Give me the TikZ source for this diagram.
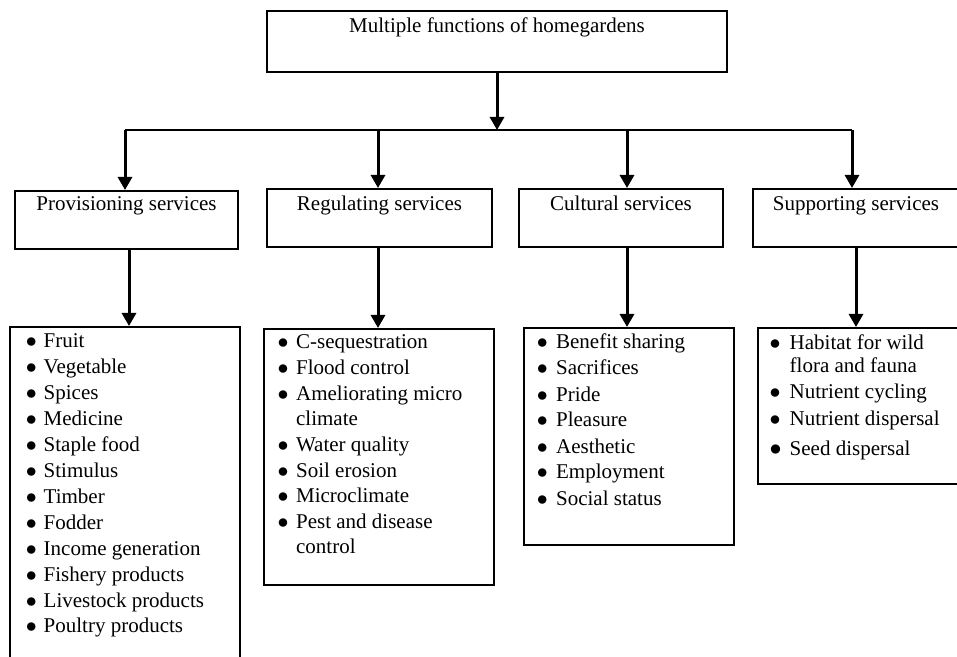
\documentclass[tikz,border=0pt]{standalone}
\usepackage{fontspec}
\setmainfont{Liberation Serif}
\usetikzlibrary{arrows.meta}
\newcommand{\blt}{$\bullet$}
\begin{document}
\begin{tikzpicture}[x=0.5pt,y=-0.5pt,
  box/.style={draw,line width=1pt,inner sep=0pt,font=\fontsize{10.5}{12.9}\selectfont},
  hbox/.style={box,text height=11pt,text depth=18pt},
  lbox/.style={draw,line width=1pt,inner sep=0pt,anchor=north west},
  arr/.style={line width=1.5pt,-{Triangle[length=6.5pt,width=7pt]}},
  conn/.style={line width=1pt},
  items/.style={inner sep=0pt,anchor=base west}]
\clip (0,0) rectangle (957,657);
% top box
\node[box,minimum width=230pt,text height=11pt,text depth=19.5pt] (top) at (497,41.5) {Multiple functions of homegardens};
% service boxes
\node[box,minimum width=111.5pt,text height=10pt,text depth=19pt] (prov) at (126.5,220) {Provisioning services};
\node[hbox,minimum width=112.5pt] (reg) at (379.5,218) {Regulating services};
\node[hbox,minimum width=102pt] (cult) at (621,218) {Cultural services};
\node[hbox,minimum width=103pt] (supp) at (856,218) {Supporting services};
% list boxes
\node[lbox,minimum width=115pt,minimum height=168pt] (provlist) at (9,326) {};
\node[lbox,minimum width=115pt,minimum height=128pt] (reglist) at (263,328) {};
\node[lbox,minimum width=105pt,minimum height=108.5pt] (cultlist) at (523,327) {};
\node[lbox,minimum width=102pt,minimum height=78pt] (supplist) at (757,327) {};
% list items
\node[items,font=\fontsize{10.5}{12.95}\selectfont] (provitems) at (25.5,348) {%
\begin{tabular}[t]{@{}p{8.9pt}@{}l@{}}
\blt & Fruit\\
\blt & Vegetable\\
\blt & Spices\\
\blt & Medicine\\
\blt & Staple food\\
\blt & Stimulus\\
\blt & Timber\\
\blt & Fodder\\
\blt & Income generation\\
\blt & Fishery products\\
\blt & Livestock products\\
\blt & Poultry products
\end{tabular}};
\node[items,font=\fontsize{10.5}{12.8}\selectfont] (regitems) at (277.2,349) {%
\begin{tabular}[t]{@{}p{9.25pt}@{}l@{}}
\blt & C-sequestration\\
\blt & Flood control\\
\blt & Ameliorating micro\\
 & climate\\
\blt & Water quality\\
\blt & Soil erosion\\
\blt & Microclimate\\
\blt & Pest and disease\\
 & control
\end{tabular}};
\node[items,font=\fontsize{10.5}{13}\selectfont] (cultitems) at (536.5,349) {%
\begin{tabular}[t]{@{}p{9.6pt}@{}l@{}}
\blt & Benefit sharing\\
\blt & Sacrifices\\
\blt & Pride\\
\blt & Pleasure\\
\blt & Aesthetic\\
\blt & Employment\\
\blt & Social status
\end{tabular}};
\node[items,font=\fontsize{10.5}{11.5}\selectfont] (suppitems) at (769.2,350) {%
\begin{tabular}[t]{@{}p{10.05pt}@{}l@{}}
\blt & Habitat for wild\\
 & flora and fauna\\[1.5pt]
\blt & Nutrient cycling\\[2pt]
\blt & Nutrient dispersal\\[3pt]
{\fontsize{12}{11.5}\selectfont\blt} & Seed dispersal
\end{tabular}};
% connectors
\coordinate (h1) at (125,130);
\coordinate (h2) at (378,130);
\coordinate (h3) at (627,130);
\coordinate (h4) at (852,130);
\draw[conn] (h1) -- (h4);
\draw[arr] (top.south) -- (top.south |- h1);
\draw[arr] (h1) -- (h1 |- prov.north);
\draw[arr] (h2) -- (h2 |- reg.north);
\draw[arr] (h3) -- (h3 |- cult.north);
\draw[arr] (h4) -- (h4 |- supp.north);
\coordinate (d1) at (129,0);
\coordinate (d2) at (378,0);
\coordinate (d3) at (627,0);
\coordinate (d4) at (856,0);
\draw[arr] (prov.south -| d1) -- (d1 |- provlist.north);
\draw[arr] (reg.south -| d2) -- (d2 |- reglist.north);
\draw[arr] (cult.south -| d3) -- (d3 |- cultlist.north);
\draw[arr] (supp.south -| d4) -- (d4 |- supplist.north);
\end{tikzpicture}
\end{document}
